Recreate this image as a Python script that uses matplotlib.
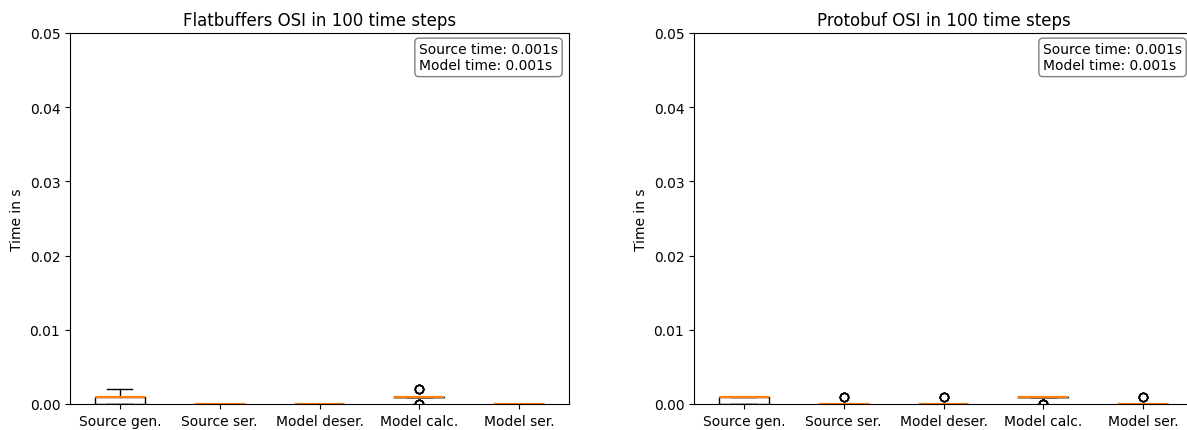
import numpy as np
import matplotlib
matplotlib.use("Agg")
from matplotlib import pyplot as plt

labels = ["Source gen.", "Source ser.", "Model deser.", "Model calc.", "Model ser."]

# measured step times (s), stored as value -> count per phase (100 steps)
levels = [0.0, 0.001, 0.002]
flat_counts = [
    [30, 65, 5],   # Source gen.
    [100, 0, 0],   # Source ser.
    [100, 0, 0],   # Model deser.
    [5, 90, 5],    # Model calc.
    [100, 0, 0],   # Model ser.
]
proto_counts = [
    [40, 60, 0],
    [95, 5, 0],
    [95, 5, 0],
    [8, 92, 0],
    [95, 5, 0],
]
flat_source_time = 0.001
flat_model_time = 0.001
proto_source_time = 0.001
proto_model_time = 0.001


def expand(counts):
    return [np.repeat(levels, c) for c in counts]


fig = plt.figure(figsize=(11.87, 4.31), dpi=100)
W, H = 1187, 431
ax1 = fig.add_axes([70 / W, 26 / H, 499 / W, 371 / H])
ax2 = fig.add_axes([694 / W, 26 / H, 499 / W, 371 / H])

for ax, counts, title, st, mt in [
    (ax1, flat_counts, "Flatbuffers OSI in 100 time steps", flat_source_time, flat_model_time),
    (ax2, proto_counts, "Protobuf OSI in 100 time steps", proto_source_time, proto_model_time),
]:
    ax.boxplot(expand(counts), tick_labels=labels,
               medianprops=dict(color="C1", linewidth=1.6))
    ax.set_ylim(0, 0.05)
    ax.set_ylabel("Time in s")
    ax.set_title(title)
    ax.text(0.978, 0.975, "Source time: %.3fs\nModel time: %.3fs" % (st, mt),
            transform=ax.transAxes, ha="right", va="top", multialignment="left",
            bbox=dict(boxstyle="round", facecolor="white", edgecolor="gray"))

fig.savefig("out.png", dpi=100)
